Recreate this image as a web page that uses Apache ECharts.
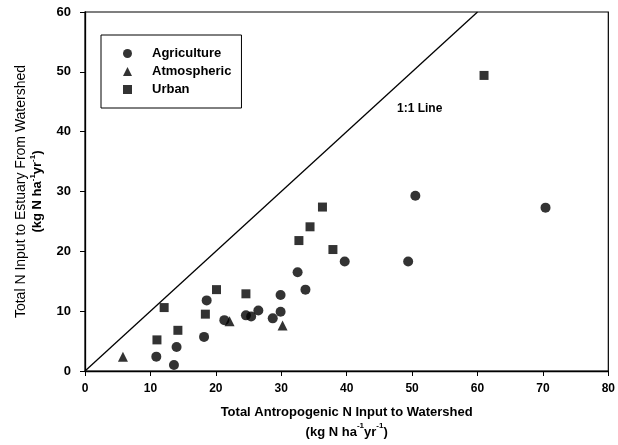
<!DOCTYPE html>
<html>
<head>
<meta charset="utf-8">
<script src="https://cdn.jsdelivr.net/npm/echarts@6/dist/echarts.min.js"></script>
<style>
  html, body { margin: 0; padding: 0; background: #fff; }
  #chart { width: 618px; height: 445px; }
</style>
</head>
<body>
<div id="chart"></div>
<script>
// values
const agriculture = [
  [10.9, 2.4], [13.6, 1.0], [14.0, 4.0], [18.2, 5.7], [18.6, 11.8],
  [21.3, 8.5], [24.6, 9.3], [25.4, 9.1], [26.5, 10.1], [28.7, 8.8],
  [29.9, 9.9], [29.9, 12.7], [32.5, 16.5], [33.7, 13.6], [39.7, 18.3],
  [49.4, 18.3], [50.5, 29.3], [70.4, 27.3]
]
const atmospheric = [[5.8, 2.4], [22.1, 8.3], [30.2, 7.6]]
const urban = [
  [11.0, 5.2], [14.2, 6.8], [12.1, 10.6], [18.4, 9.5], [20.1, 13.6],
  [24.6, 12.9], [32.7, 21.8], [34.4, 24.1], [36.3, 27.4], [37.9, 20.3],
  [61.0, 49.4]
]
const oneToOne = [[0, 0], [60, 60]]
const seriesNames = ['Agriculture', 'Atmospheric', 'Urban']

const FONT = '"Liberation Sans", Arial, sans-serif'
const sup = { fontSize: 8, fontFamily: FONT, fontWeight: 'bold', verticalAlign: 'top', lineHeight: 20 }

const chart = echarts.init(document.getElementById('chart'))

const scatter = (name, symbol, size, data) => ({
  name,
  type: 'scatter',
  symbol,
  symbolSize: size,
  itemStyle: { color: '#000' },
  data
})

chart.setOption({
  animation: false,
  backgroundColor: '#fff',
  textStyle: { fontFamily: FONT },
  grid: {
    left: 85, right: 8, top: 12, bottom: 74,
    show: true, borderColor: '#000', borderWidth: 1.2
  },
  legend: {
    data: seriesNames,
    orient: 'vertical',
    left: 101, top: 35,
    padding: [12, 10, 12, 22],
    itemWidth: 9, itemHeight: 9,
    itemGap: 5,
    backgroundColor: '#fff',
    borderColor: '#000', borderWidth: 1,
    textStyle: { fontSize: 13, fontWeight: 'bold', color: '#000', fontFamily: FONT, padding: [0, 0, 0, 15] }
  },
  xAxis: {
    type: 'value', min: 0, max: 80, interval: 10,
    splitLine: { show: false },
    axisLine: { onZero: false, lineStyle: { color: '#000', width: 1.3 } },
    axisTick: { length: 5, lineStyle: { color: '#000' } },
    axisLabel: { margin: 12, fontSize: 12, fontWeight: 'bold', color: '#000' },
    name: '{t|Total Antropogenic N Input to Watershed}\n{t|(kg N ha}{s|-1}{t|yr}{s|-1}{t|)}',
    nameLocation: 'middle',
    nameGap: 31,
    nameTextStyle: {
      rich: {
        t: { fontSize: 13, fontWeight: 'bold', color: '#000', fontFamily: FONT, lineHeight: 20 },
        s: sup
      }
    }
  },
  yAxis: {
    type: 'value', min: 0, max: 60, interval: 10,
    splitLine: { show: false },
    axisLine: { onZero: false, lineStyle: { color: '#000', width: 1.3 } },
    axisTick: { length: 5, lineStyle: { color: '#000' } },
    axisLabel: { margin: 14, fontSize: 13, fontWeight: 'bold', color: '#000' },
    name: '{t|Total N Input to Estuary From Watershed}\n{b|(kg N ha}{s|-1}{b|yr}{s|-1}{b|)}',
    nameLocation: 'middle',
    nameGap: 40,
    nameTextStyle: {
      rich: {
        t: { fontSize: 14, color: '#000', fontFamily: FONT, lineHeight: 16 },
        b: { fontSize: 13, fontWeight: 'bold', color: '#000', fontFamily: FONT, lineHeight: 16 },
        s: Object.assign({}, sup, { lineHeight: 16 })
      }
    }
  },
  graphic: [{
    type: 'text',
    left: 397, top: 103,
    style: { text: '1:1 Line', fontSize: 12, fontWeight: 'bold', fill: '#000', fontFamily: FONT }
  }],
  series: [
    {
      name: '1:1',
      type: 'line',
      data: oneToOne,
      symbol: 'none',
      silent: true,
      lineStyle: { color: '#000', width: 1.3 }
    },
    scatter('Agriculture', 'circle', 10, agriculture),
    scatter('Atmospheric', 'triangle', 10, atmospheric),
    scatter('Urban', 'rect', 9, urban)
  ]
})
</script>
</body>
</html>
